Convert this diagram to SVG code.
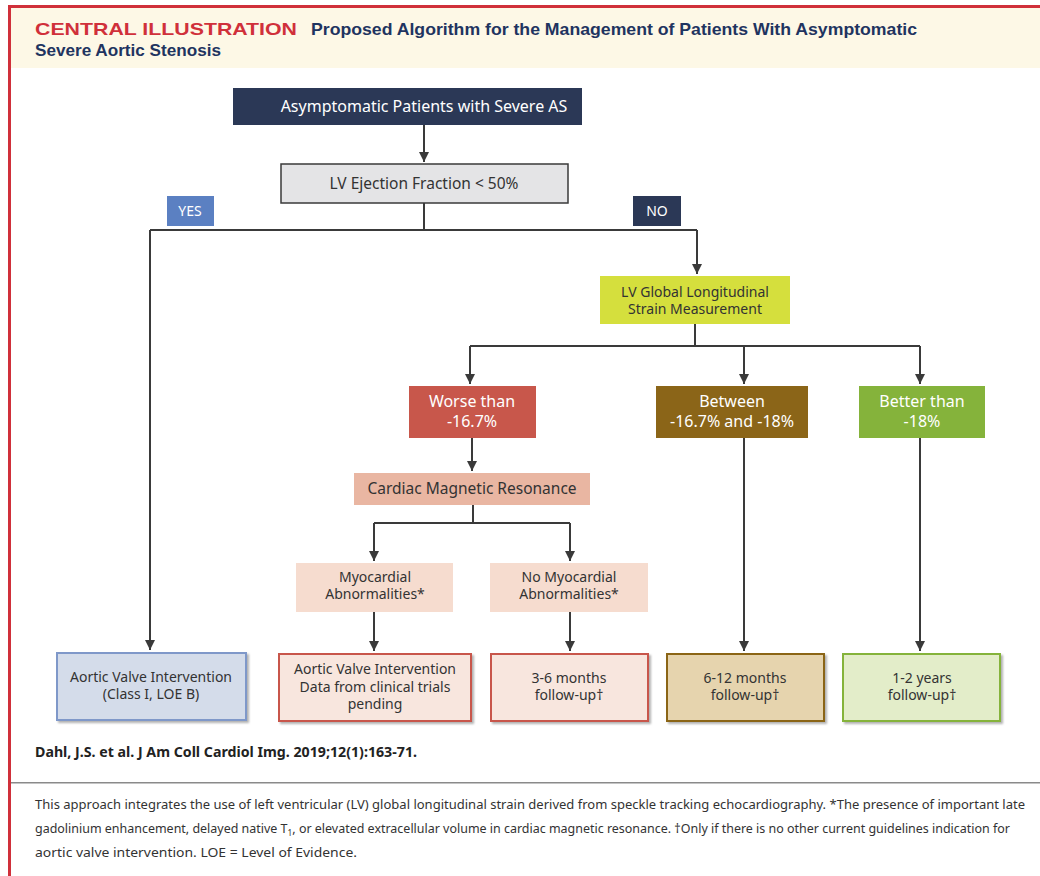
<svg xmlns="http://www.w3.org/2000/svg" width="1040" height="876" viewBox="0 0 1040 876">
<defs>
<marker id="arr" viewBox="0 0 10 10" refX="10" refY="5" markerWidth="5" markerHeight="5" orient="auto" markerUnits="strokeWidth">
<path d="M0,0 L10,5 L0,10 z" fill="#3a3a3a"/>
</marker>
<filter id="sh" x="-5%" y="-5%" width="115%" height="120%">
<feDropShadow dx="2" dy="2" stdDeviation="1.2" flood-color="#000" flood-opacity="0.3"/>
</filter>
</defs>
<style>
text{font-family:"Noto Sans","Open Sans","Liberation Sans",sans-serif;text-anchor:middle}
.w{fill:#ffffff}
.d{fill:#333333}
.f16{font-size:16px}
.f15{font-size:15.5px}
.f14{font-size:14px}
.f13{font-size:14px}
.ln{fill:none;stroke:#3a3a3a;stroke-width:2}
.ar{fill:none;stroke:#3a3a3a;stroke-width:2;marker-end:url(#arr)}
</style>
<rect x="0" y="0" width="1040" height="876" fill="#ffffff"/>
<rect x="10" y="8" width="1030" height="60" fill="#fdf8e6"/>
<rect x="8" y="5" width="1032" height="3" fill="#d0303a"/>
<rect x="8" y="5" width="3" height="871" fill="#d0303a"/>
<text x="35" y="35" style="text-anchor:start;font-family:'Liberation Sans',sans-serif;font-weight:bold;font-size:17px;fill:#d0303a" textLength="262" lengthAdjust="spacingAndGlyphs">CENTRAL ILLUSTRATION</text>
<text x="311" y="35" style="text-anchor:start;font-family:'Liberation Sans',sans-serif;font-weight:bold;font-size:17px;fill:#1f3460" textLength="606" lengthAdjust="spacingAndGlyphs">Proposed Algorithm for the Management of Patients With Asymptomatic</text>
<text x="35" y="56" style="text-anchor:start;font-family:'Liberation Sans',sans-serif;font-weight:bold;font-size:17px;fill:#1f3460" textLength="186" lengthAdjust="spacingAndGlyphs">Severe Aortic Stenosis</text>

<g id="connectors">
<path class="ar" d="M424,125 V162"/>
<path class="ln" d="M424,203 V230 M150,230 H697"/>
<path class="ar" d="M150,230 V650"/>
<path class="ar" d="M697,230 V274"/>
<path class="ln" d="M695,324 V346 M470,346 H920"/>
<path class="ar" d="M470,346 V384"/>
<path class="ar" d="M744,346 V384"/>
<path class="ar" d="M920,346 V384"/>
<path class="ar" d="M472,438 V471"/>
<path class="ln" d="M473,505 V523 M374,523 H570"/>
<path class="ar" d="M374,523 V561"/>
<path class="ar" d="M570,523 V561"/>
<path class="ar" d="M374,612 V651"/>
<path class="ar" d="M570,612 V651"/>
<path class="ar" d="M744,438 V651"/>
<path class="ar" d="M920,438 V651"/>
</g>

<g id="start">
<rect x="233" y="88" width="349" height="37" fill="#2b3856"/>
<text class="w f16" x="424" y="112">Asymptomatic Patients with Severe AS</text>
</g>
<g id="ef">
<rect x="281" y="164" width="287" height="39" fill="#e4e4e6" stroke="#3a3a3a" stroke-width="1.5"/>
<text class="d f15" x="424" y="189">LV Ejection Fraction &lt; 50%</text>
</g>
<g id="yes">
<rect x="167" y="196" width="47" height="30" fill="#5b80c2"/>
<text class="w f14" x="190" y="216">YES</text>
</g>
<g id="no">
<rect x="633" y="196" width="48" height="30" fill="#2b3856"/>
<text class="w f14" x="657" y="216">NO</text>
</g>
<g id="gls">
<rect x="600" y="276" width="190" height="48" fill="#d5df3d"/>
<text class="d f13" x="695" y="297">LV Global Longitudinal</text>
<text class="d f13" x="695" y="314">Strain Measurement</text>
</g>
<g id="worse">
<rect x="409" y="386" width="127" height="52" fill="#c8574b"/>
<text class="w f16" x="472" y="407">Worse than</text>
<text class="w f16" x="472" y="427">-16.7%</text>
</g>
<g id="between">
<rect x="656" y="386" width="152" height="52" fill="#8b6518"/>
<text class="w f16" x="732" y="407">Between</text>
<text class="w f16" x="732" y="427">-16.7% and -18%</text>
</g>
<g id="better">
<rect x="859" y="386" width="126" height="52" fill="#85b33b"/>
<text class="w f16" x="922" y="407">Better than</text>
<text class="w f16" x="922" y="427">-18%</text>
</g>
<g id="cmr">
<rect x="354" y="473" width="236" height="32" fill="#e9b6a2"/>
<text class="d f15" x="472" y="494">Cardiac Magnetic Resonance</text>
</g>
<g id="myo">
<rect x="296" y="563" width="157" height="49" fill="#f6dccf"/>
<text class="d f13" x="375" y="582">Myocardial</text>
<text class="d f13" x="375" y="599">Abnormalities*</text>
</g>
<g id="nomyo">
<rect x="490" y="563" width="158" height="49" fill="#f6dccf"/>
<text class="d f13" x="569" y="582">No Myocardial</text>
<text class="d f13" x="569" y="599">Abnormalities*</text>
</g>
<g id="avi1">
<rect x="57" y="653" width="189" height="67" fill="#d4dcea" stroke="#7f98c9" stroke-width="2" filter="url(#sh)"/>
<text class="d f14" x="151" y="682">Aortic Valve Intervention</text>
<text class="d f14" x="151" y="699">(Class I, LOE B)</text>
</g>
<g id="avi2">
<rect x="279" y="654" width="192" height="67" fill="#f8e6de" stroke="#c8574b" stroke-width="2" filter="url(#sh)"/>
<text class="d f14" x="375" y="674">Aortic Valve Intervention</text>
<text class="d f14" x="375" y="692">Data from clinical trials</text>
<text class="d f14" x="375" y="709">pending</text>
</g>
<g id="f36">
<rect x="491" y="654" width="157" height="67" fill="#f8e6de" stroke="#c8574b" stroke-width="2" filter="url(#sh)"/>
<text class="d f14" x="569" y="683">3-6 months</text>
<text class="d f14" x="569" y="700">follow-up†</text>
</g>
<g id="f612">
<rect x="667" y="654" width="157" height="67" fill="#e6d4ae" stroke="#8b6518" stroke-width="2" filter="url(#sh)"/>
<text class="d f14" x="745" y="683">6-12 months</text>
<text class="d f14" x="745" y="700">follow-up†</text>
</g>
<g id="f12y">
<rect x="843" y="654" width="157" height="67" fill="#e3edc9" stroke="#85b33b" stroke-width="2" filter="url(#sh)"/>
<text class="d f14" x="922" y="683">1-2 years</text>
<text class="d f14" x="922" y="700">follow-up†</text>
</g>

<text x="35" y="757" style="text-anchor:start;font-family:'Noto Sans',sans-serif;font-weight:bold;font-size:13.5px;fill:#222" textLength="382" lengthAdjust="spacingAndGlyphs">Dahl, J.S. et al. J Am Coll Cardiol Img. 2019;12(1):163-71.</text>
<rect x="11" y="782" width="1029" height="1.5" fill="#8a8a8a"/>
<g style="font-family:'Liberation Sans',sans-serif;font-size:12px;fill:#333">
<text x="35" y="809" style="text-anchor:start" textLength="990" lengthAdjust="spacingAndGlyphs">This approach integrates the use of left ventricular (LV) global longitudinal strain derived from speckle tracking echocardiography. *The presence of important late</text>
<text x="35" y="833" style="text-anchor:start" textLength="975" lengthAdjust="spacingAndGlyphs">gadolinium enhancement, delayed native T<tspan font-size="8" dy="3">1</tspan><tspan dy="-3">, or elevated extracellular volume in cardiac magnetic resonance. †Only if there is no other current guidelines indication for</tspan></text>
<text x="35" y="857" style="text-anchor:start" textLength="322" lengthAdjust="spacingAndGlyphs">aortic valve intervention. LOE = Level of Evidence.</text>
</g>
</svg>
